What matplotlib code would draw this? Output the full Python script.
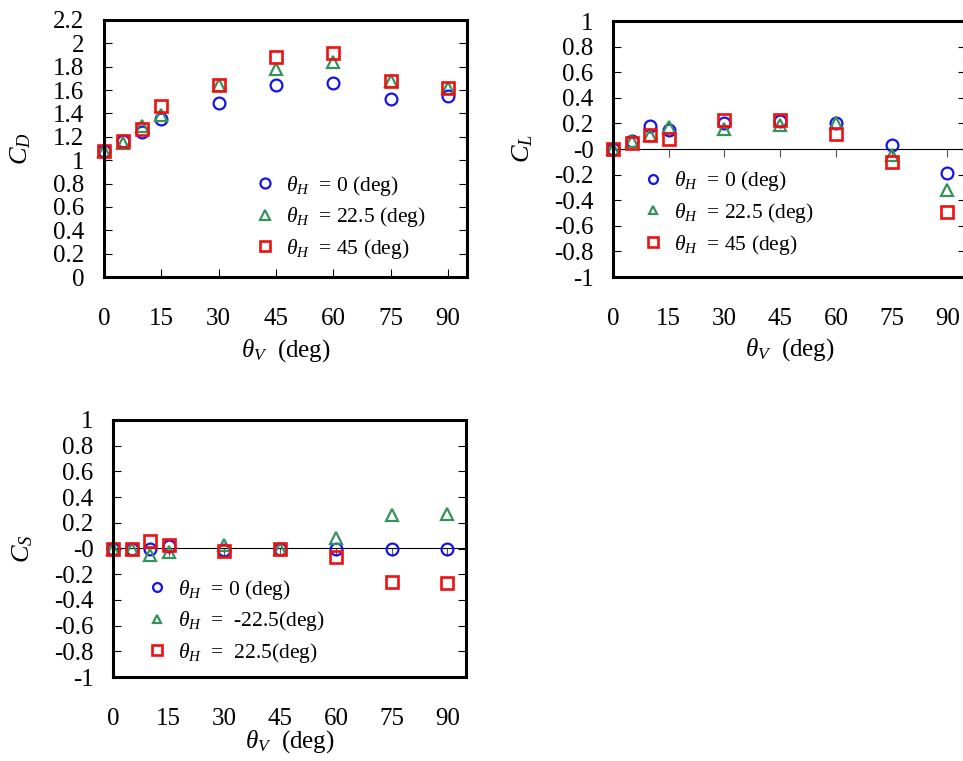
import numpy as np
import matplotlib
matplotlib.use('Agg')
import matplotlib.pyplot as plt
from matplotlib.ticker import FuncFormatter

plt.rcParams['font.family'] = ['Liberation Serif', 'DejaVu Serif']
plt.rcParams['mathtext.fontset'] = 'custom'
plt.rcParams['mathtext.rm'] = 'Liberation Serif'
plt.rcParams['mathtext.it'] = 'Liberation Serif:italic'
plt.rcParams['font.size'] = 18

# угол theta_V (deg)
theta_v = [0, 5, 10, 15, 30, 45, 60, 75, 90]

# C_D
cd_h0 = [1.08, 1.16, 1.24, 1.35, 1.49, 1.64, 1.66, 1.52, 1.55]
cd_h225 = [1.08, 1.15, 1.29, 1.39, 1.64, 1.78, 1.84, 1.68, 1.62]
cd_h45 = [1.08, 1.16, 1.27, 1.46, 1.64, 1.88, 1.92, 1.68, 1.62]

# C_L
cl_h0 = [0.0, 0.06, 0.18, 0.15, 0.20, 0.22, 0.20, 0.03, -0.19]
cl_h225 = [0.0, 0.06, 0.11, 0.17, 0.16, 0.19, 0.20, -0.05, -0.32]
cl_h45 = [0.0, 0.05, 0.11, 0.08, 0.23, 0.23, 0.12, -0.10, -0.49]

# C_S
cs_h0 = [0.0, 0.0, 0.0, 0.02, -0.01, 0.0, 0.0, 0.0, 0.0]
cs_hm225 = [0.0, 0.0, -0.05, -0.03, 0.03, 0.0, 0.08, 0.26, 0.27]
cs_hp225 = [0.0, 0.0, 0.06, 0.03, -0.02, 0.0, -0.07, -0.26, -0.265]

leg_top = [r'$\theta_H$  = 0 (deg)', r'$\theta_H$  = 22.5 (deg)', r'$\theta_H$  = 45 (deg)']
leg_bot = [r'$\theta_H$  = 0 (deg)', r'$\theta_H$  =  -22.5(deg)', r'$\theta_H$  =  22.5(deg)']
xlab = r'$\theta_V$  (deg)'

blue = '#1414e6'
green = '#35925c'
red = '#ee1111'

W, H = 963, 761
fig = plt.figure(figsize=(W / 100, H / 100), dpi=100)


def make_ax(left, top, right, bottom):
    return fig.add_axes([left / W, 1 - bottom / H, (right - left) / W, (bottom - top) / H])


fmt = FuncFormatter(lambda v, p: f'{round(v, 2):g}')


def style(ax, ylim, yticks, zero_line):
    ax.set_xlim(0, 95)
    ax.set_ylim(*ylim)
    ax.set_xticks([0, 15, 30, 45, 60, 75, 90])
    ax.set_yticks(yticks)
    ax.yaxis.set_major_formatter(fmt)
    for s in ax.spines.values():
        s.set_linewidth(2.2)
    ax.tick_params(axis='y', direction='in', length=5.5, width=0.8, pad=14, left=True, right=True)
    if zero_line:
        ax.tick_params(axis='x', length=0, pad=22)
        # ось x проходит через ноль
        sec = ax.secondary_xaxis(0.5)
        sec.set_xticks([15, 30, 45, 60, 75, 90])
        sec.tick_params(direction='in', length=5.5, width=0.8, color='#555555',
                        labelbottom=False, labeltop=False)
        sec.spines['bottom'].set_color('#666666')
        sec.spines['bottom'].set_linewidth(0.9)
    else:
        ax.tick_params(axis='x', direction='in', length=5.5, width=0.8, pad=22)


def draw(ax, ys, labels, ms):
    ax.plot(theta_v, ys[0], 'o', mfc='none', mec=blue, mew=1.6, ms=ms, label=labels[0], clip_on=False)
    ax.plot(theta_v, ys[1], '^', mfc='none', mec=green, mew=1.6, ms=ms, label=labels[1], clip_on=False)
    ax.plot(theta_v, ys[2], 's', mfc='none', mec=red, mew=1.9, ms=ms + 0.8, label=labels[2], clip_on=False)


leg_kw = dict(loc='upper left', frameon=False, borderpad=0, handlelength=1.1,
              handletextpad=0.45, labelspacing=0.35, borderaxespad=0, fontsize=15.5)

# C_D
ax1 = make_ax(104, 20, 467, 277)
style(ax1, (0, 2.2), np.arange(0, 2.21, 0.2), False)
draw(ax1, [cd_h0, cd_h225, cd_h45], leg_top, 8.5)
ax1.legend(bbox_to_anchor=(0.41, 0.402), markerscale=0.85, **leg_kw)
ax1.set_ylabel(r'$C_D$', fontsize=19)
ax1.yaxis.set_label_coords(-0.196, 0.5)
ax1.set_xlabel(xlab)
ax1.xaxis.set_label_coords(0.5, -0.233)

# C_L
ax2 = make_ax(613, 21, 966, 277)
style(ax2, (-1, 1), np.arange(-1, 1.01, 0.2), True)
draw(ax2, [cl_h0, cl_h225, cl_h45], leg_top, 8.5)
ax2.legend(bbox_to_anchor=(0.079, 0.42), markerscale=0.75, **leg_kw)
ax2.set_ylabel(r'$C_L$', fontsize=19)
ax2.yaxis.set_label_coords(-0.221, 0.5)
ax2.set_xlabel(xlab)
ax2.xaxis.set_label_coords(0.5, -0.233)

# C_S
ax3 = make_ax(113, 420, 466, 677)
style(ax3, (-1, 1), np.arange(-1, 1.01, 0.2), True)
draw(ax3, [cs_h0, cs_hm225, cs_hp225], leg_bot, 8.5)
ax3.legend(bbox_to_anchor=(0.09, 0.387), markerscale=0.75, **leg_kw)
ax3.set_ylabel(r'$C_S$', fontsize=19)
ax3.yaxis.set_label_coords(-0.221, 0.5)
ax3.set_xlabel(xlab)
ax3.xaxis.set_label_coords(0.5, -0.198)

fig.savefig('out.png', dpi=100)
